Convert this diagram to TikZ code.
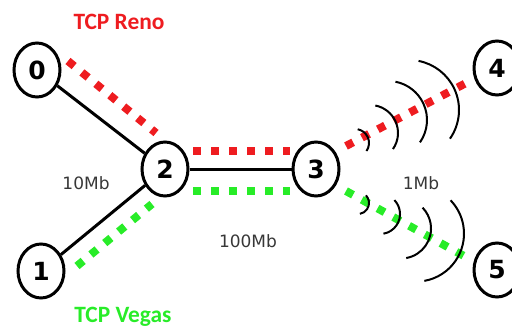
\documentclass[tikz,border=0pt]{standalone}
\usepackage{fontspec}
\setmainfont{DejaVu Sans}
\newfontfamily\tcpfont{Carlito}
\usetikzlibrary{shapes.geometric}
\definecolor{renored}{RGB}{238,28,32}
\definecolor{vegasgreen}{RGB}{40,236,40}
\definecolor{rategray}{RGB}{55,55,55}

\begin{document}
\begin{tikzpicture}[x=0.5pt, y=0.5pt,
 host/.style={draw, ellipse, line width=1.5pt, minimum width=23pt, minimum height=27pt, inner sep=0pt, font=\fontsize{12.5}{14}\selectfont\bfseries},
 wire/.style={line width=1.5pt},
 reno/.style={draw=renored, line width=4pt, dash pattern=on 4pt off 5pt},
 vegas/.style={draw=vegasgreen, line width=4pt, dash pattern=on 4pt off 5pt},
 wave/.style={line width=1pt},
 rate/.style={text=rategray, font=\fontsize{8.5}{10}\selectfont},
 flow/.style={font=\tcpfont\fontsize{11.7}{14}\selectfont\bfseries}]
\useasboundingbox (0,0) rectangle (512,332);
\node[host] (n0) at (37,262) {0};
\node[host] (n1) at (41,61) {1};
\node[host] (n2) at (165,163) {2};
\node[host] (n3) at (316,163) {3};
\node[host] (n4) at (497,264) {4};
\node[host] (n5) at (497,62) {5};
\draw[wire] (n0)--(n2); \draw[wire] (n1)--(n2); \draw[wire] (n2)--(n3);
\coordinate (r0) at (68,271); \coordinate (r1) at (156,199);
\coordinate (r2) at (193,181); \coordinate (r3) at (290,181);
\coordinate (r4) at (346,186); \coordinate (r5) at (468,250);
\coordinate (g0) at (77,66); \coordinate (g1) at (152,128);
\coordinate (g2) at (193,141); \coordinate (g3) at (290,141);
\coordinate (g4) at (346,141); \coordinate (g5) at (464,76);
\draw[reno] (r0)--(r1); \draw[reno] (r2)--(r3); \draw[reno] (r4)--(r5);
\draw[vegas] (g0)--(g1); \draw[vegas] (g2)--(g3); \draw[vegas] (g4)--(g5);
\foreach \cx/\cy/\r in {355/189/14, 370/199/28, 388/212/39, 409/222/50}
  \draw[wave] (\cx,\cy) ++(-35:\r) arc[start angle=-35, end angle=79, radius=\r*0.5pt];
\foreach \cx/\cy/\r in {358/129/11, 380/118/20, 401/103.5/30, 416/98.4/48}
  \draw[wave] (\cx,\cy) ++(-80:\r) arc[start angle=-80, end angle=44, radius=\r*0.5pt];
\node[flow, text=renored] (reno) at (119,310) {TCP Reno};
\node[flow, text=vegasgreen] (vegas) at (123,15) {TCP Vegas};
\node[rate] (access) at (86,149) {10Mb};
\node[rate] (core) at (248,91) {100Mb};
\node[rate] (radio) at (421,149) {1Mb};
\end{tikzpicture}
\end{document}
